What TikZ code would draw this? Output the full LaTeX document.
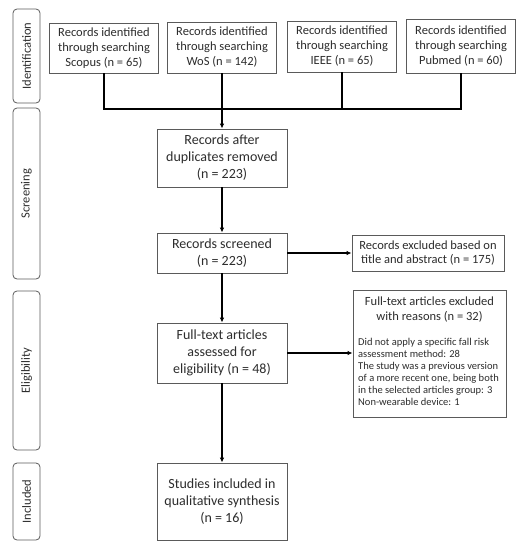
\documentclass[tikz,border=0pt]{standalone}
\usepackage{fontspec}
\setmainfont{Carlito}
\usetikzlibrary{arrows.meta}
\definecolor{bordergray}{RGB}{90,90,90}
\definecolor{textgray}{RGB}{45,45,45}
\tikzset{
  box/.style={draw=bordergray, line width=0.8pt, fill=white, align=center, inner sep=0pt,
    font=\fontsize{14}{17}\selectfont, text=textgray},
  topbox/.style={box, font=\fontsize{12.5}{15}\selectfont},
  phase/.style={draw=bordergray, line width=0.8pt, rounded corners=4pt, inner sep=0pt},
  phasetext/.style={rotate=90, font=\fontsize{12.5}{14}\selectfont, text=textgray},
  conn/.style={line width=1.8pt, black},
  arr/.style={conn, -{Latex[length=5pt,width=4.5pt]}},
}
\begin{document}
\begin{tikzpicture}[x=1pt,y=-1pt]
\useasboundingbox (0,0) rectangle (523,550);
% phase boxes
\node[phase, minimum width=27pt, minimum height=94pt] (ph1) at (26.5,56) {};
\node[phasetext] (ph1t) at (ph1.center) {Identification};
\node[phase, minimum width=27pt, minimum height=171pt] (ph2) at (26.5,193.5) {};
\node[phasetext] (ph2t) at (ph2.center) {Screening};
\node[phase, minimum width=27pt, minimum height=159pt] (ph3) at (26.5,370.5) {};
\node[phasetext] (ph3t) at (ph3.center) {Eligibility};
\node[phase, minimum width=27pt, minimum height=77pt] (ph4) at (26.5,501.5) {};
\node[phasetext] (ph4t) at (ph4.center) {Included};
% top boxes
\node[topbox, minimum width=109pt, minimum height=50pt] (scopus) at (104,48) {Records identified\\through searching\\Scopus (n = 65)};
\node[topbox, minimum width=109pt, minimum height=51pt] (wos) at (222,47.5) {Records identified\\through searching\\WoS (n = 142)};
\node[topbox, minimum width=109pt, minimum height=51pt] (ieee) at (342,46.5) {Records identified\\through searching\\IEEE (n = 65)};
\node[topbox, minimum width=109pt, minimum height=54pt] (pubmed) at (461,46) {Records identified\\through searching\\Pubmed (n = 60)};
% main flow
\node[box, minimum width=130pt, minimum height=58pt] (dup) at (222,158) {Records after\\duplicates removed\\(n = 223)};
\node[box, minimum width=130pt, minimum height=40pt] (scr) at (222,253) {Records screened\\(n = 223)};
\node[box, minimum width=152pt, minimum height=36pt, font=\fontsize{12.5}{14.5}\selectfont] (excl) at (428,253) {Records excluded based on\\title and abstract (n = 175)};
\node[box, minimum width=130pt, minimum height=60pt] (full) at (222,353) {Full-text articles\\assessed for\\eligibility (n = 48)};
\node[box, minimum width=153pt, minimum height=127pt] (fexcl) at (429.5,353.5) {};
\node[align=center, font=\fontsize{12.5}{15}\selectfont, text=textgray, anchor=north, inner sep=0pt] (fexclt) at (429.5,297) {Full-text articles excluded\\with reasons (n = 32)};
\node[align=left, font=\fontsize{10.5}{12}\selectfont, text=textgray, anchor=north west, inner sep=0pt] (fexclr) at (358,338.5) {Did not apply a specific fall risk\\assessment method: 28\\The study was a previous version\\of a more recent one, being both\\in the selected articles group: 3\\Non-wearable device: 1};
\node[box, minimum width=130pt, minimum height=77pt] (incl) at (222,501.5) {Studies included in\\qualitative synthesis\\(n = 16)};
% connectors
\coordinate (busL) at (scopus.south |- 0,109);
\coordinate (busR) at (pubmed.south |- 0,109);
\coordinate (busW) at (wos.south |- 0,109);
\coordinate (busI) at (ieee.south |- 0,109);
\draw[conn] (scopus.south) -- (busL) -- (busR) -- (pubmed.south);
\draw[conn] (wos.south) -- (busW);
\draw[conn] (ieee.south) -- (busI);
\draw[arr] (busW) -- (dup.north);
\draw[arr] (dup.south) -- (scr.north);
\draw[arr] (scr.east) -- (excl.west);
\draw[arr] (scr.south) -- (full.north);
\draw[arr] (full.east) -- (full.east -| fexcl.west);
\draw[arr] (full.south) -- (incl.north);
\end{tikzpicture}
\end{document}
